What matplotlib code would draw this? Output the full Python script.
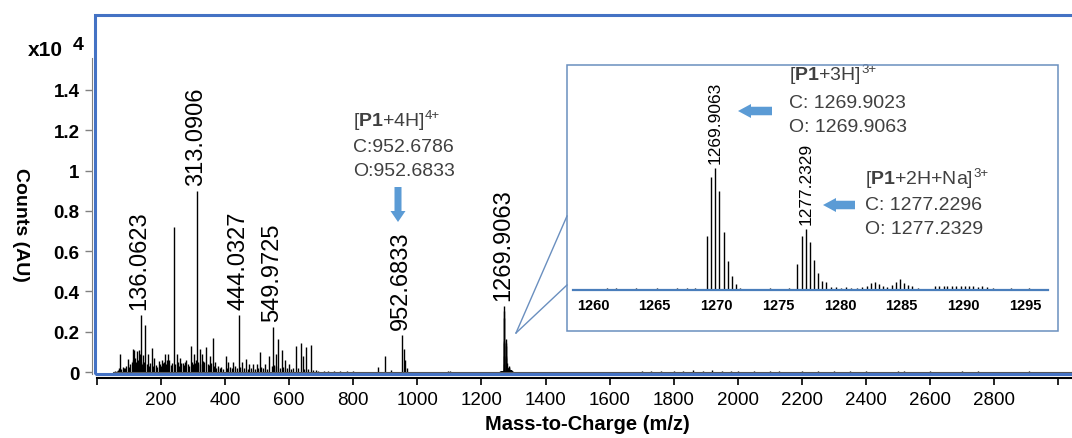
import matplotlib
matplotlib.use('Agg')
import matplotlib.pyplot as plt
from matplotlib import transforms
from matplotlib.patches import Rectangle, FancyArrow
from matplotlib.lines import Line2D

plt.rcParams['font.family'] = ['Liberation Sans', 'DejaVu Sans']
plt.rcParams['mathtext.fontset'] = 'custom'
plt.rcParams['mathtext.rm'] = 'Liberation Sans'
plt.rcParams['mathtext.bf'] = 'Liberation Sans:bold'

# ---------------- data (counts in units of 1e4) ----------------
labeled_mz = [136.0623, 313.0906, 444.0327, 549.9725, 952.6833]
labeled_h = [0.283, 0.897, 0.284, 0.222, 0.184]

minor_mz = [72, 84, 95.6, 111, 117, 124, 130, 143, 151, 158.5, 171, 179, 192, 202, 213, 221,
            226, 240, 249, 259, 268, 278, 292.5, 303, 320, 327, 341, 353, 362, 369, 378, 402,
            410, 425.5, 453, 464, 475, 488, 498, 507.6, 524, 537, 557.6, 566, 576, 587, 599,
            621, 636, 642, 652, 668, 691, 707, 722, 740, 760, 780, 800, 876, 900, 917, 958,
            962, 967, 1096, 1101]
minor_h = [0.091, 0.02, 0.063, 0.116, 0.11, 0.105, 0.11, 0.085, 0.232, 0.09, 0.121, 0.07,
           0.055, 0.06, 0.091, 0.091, 0.06, 0.718, 0.087, 0.07, 0.046, 0.06, 0.13, 0.09, 0.116,
           0.09, 0.125, 0.078, 0.169, 0.05, 0.03, 0.08, 0.05, 0.05, 0.05, 0.066, 0.04, 0.04,
           0.04, 0.1, 0.04, 0.08, 0.09, 0.165, 0.11, 0.06, 0.04, 0.127, 0.146, 0.08, 0.124,
           0.135, 0.005, 0.006, 0.006, 0.005, 0.006, 0.005, 0.006, 0.023, 0.08, 0.01, 0.114,
           0.06, 0.02, 0.006, 0.006]

noise_mz = [55, 62, 66, 70, 76, 80, 88, 92, 99, 104, 108, 113, 115, 120, 122, 127, 133, 137,
            140, 146, 148, 155, 162, 166, 175, 183, 187, 196, 199, 205, 209, 216, 218, 230,
            235, 245, 252, 255, 263, 272, 275, 283, 287, 296, 299, 307, 310, 316, 323, 331,
            335, 345, 349, 357, 365, 372, 383, 388, 394, 406, 416, 420, 431, 436, 447, 458,
            470, 480, 493, 503, 512, 518, 530, 545, 553, 560, 571, 580, 593, 605, 612, 628,
            646, 660, 675, 685]
noise_h = [0.003, 0.006, 0.01, 0.02, 0.015, 0.025, 0.02, 0.03, 0.025, 0.04, 0.05, 0.06, 0.045,
           0.07, 0.05, 0.06, 0.09, 0.05, 0.04, 0.035, 0.05, 0.04, 0.03, 0.045, 0.03, 0.035,
           0.025, 0.04, 0.03, 0.045, 0.05, 0.04, 0.06, 0.035, 0.045, 0.04, 0.05, 0.03, 0.045,
           0.035, 0.05, 0.04, 0.03, 0.05, 0.04, 0.045, 0.06, 0.05, 0.04, 0.055, 0.05, 0.04,
           0.035, 0.045, 0.03, 0.02, 0.02, 0.025, 0.015, 0.02, 0.025, 0.02, 0.03, 0.02, 0.025,
           0.02, 0.015, 0.02, 0.015, 0.02, 0.025, 0.02, 0.015, 0.03, 0.035, 0.03, 0.02, 0.025,
           0.02, 0.015, 0.02, 0.02, 0.015, 0.015, 0.01, 0.008]

high_mz = [1700, 1730, 1760, 1800, 1830, 1860, 1890, 1920, 1950, 1980, 2000, 2050, 2100, 2130,
           2200, 2250, 2300, 2350, 2400, 2500, 2520, 2600, 2700, 2750, 2910]
high_h = [0.006, 0.005, 0.006, 0.007, 0.006, 0.008, 0.007, 0.008, 0.006, 0.007, 0.006, 0.006,
          0.005, 0.006, 0.007, 0.006, 0.006, 0.005, 0.006, 0.006, 0.005, 0.006, 0.006, 0.005,
          0.006]

# isotope clusters (shown in both main spectrum and inset)
h3_mz = [1269.240, 1269.573, 1269.9063, 1270.240, 1270.573, 1270.906, 1271.240, 1271.573]
h3_h = [0.145, 0.305, 0.330, 0.267, 0.156, 0.079, 0.038, 0.016]
na_mz = [1276.566, 1276.899, 1277.2329, 1277.566, 1277.899, 1278.232, 1278.566]
na_h = [0.071, 0.146, 0.164, 0.130, 0.081, 0.045, 0.023]
cl_noise_mz = [1258.8, 1259.5, 1260.3, 1261.1, 1261.9, 1262.6, 1263.5, 1264.4, 1265.2, 1266.0,
               1266.8, 1267.6, 1268.3, 1268.8, 1271.9, 1272.4, 1273.6, 1274.3, 1275.1, 1275.9,
               1278.86, 1279.3, 1279.7, 1280.1, 1280.5, 1280.9, 1281.4, 1281.8, 1282.18, 1282.5,
               1282.83, 1283.15, 1283.48, 1283.8, 1284.2, 1284.55, 1284.88, 1285.2, 1285.55,
               1285.88, 1286.3, 1286.9, 1287.7, 1288.0, 1288.4, 1288.7, 1289.1, 1289.4, 1289.8,
               1290.1, 1290.5, 1290.8, 1291.2, 1291.5, 1291.9, 1292.4, 1293.2, 1293.9, 1294.6,
               1295.3, 1296.0]
cl_noise_h = [0.003, 0.004, 0.004, 0.005, 0.005, 0.004, 0.005, 0.004, 0.005, 0.004, 0.006,
              0.005, 0.006, 0.004, 0.006, 0.004, 0.004, 0.005, 0.004, 0.005, 0.021, 0.007,
              0.007, 0.006, 0.007, 0.006, 0.005, 0.007, 0.011, 0.020, 0.021, 0.015, 0.011,
              0.008, 0.0135, 0.0225, 0.029, 0.018, 0.0135, 0.011, 0.005, 0.004, 0.012, 0.010,
              0.012, 0.011, 0.012, 0.010, 0.012, 0.011, 0.010, 0.012, 0.009, 0.010, 0.008,
              0.006, 0.004, 0.005, 0.004, 0.005, 0.004]

y_ticks = [0, 0.2, 0.4, 0.6, 0.8, 1.0, 1.2, 1.4]
y_ticklabels = ['0', '0.2', '0.4', '0.6', '0.8', '1', '1.2', '1.4']
x_ticks = [0, 200, 400, 600, 800, 1000, 1200, 1400, 1600, 1800, 2000, 2200, 2400, 2600,
           2800, 3000]
x_ticklabels = ['', '200', '400', '600', '800', '1000', '1200', '1400', '1600', '1800',
                '2000', '2200', '2400', '2600', '2800', '']
inset_ticks = [1260, 1265, 1270, 1275, 1280, 1285, 1290, 1295]
inset_labeled_mz = [1269.9063, 1277.2329]
inset_labeled_h = [0.330, 0.164]

# ---------------- figure ----------------
W, H = 1072, 439
fig = plt.figure(figsize=(W / 100, H / 100), dpi=100)
px = transforms.Affine2D().scale(1 / 100, -1 / 100).translate(0, H / 100) + fig.dpi_scale_trans


def rect(l, t, r, b):
    return [l / W, 1 - b / H, (r - l) / W, (b - t) / H]


BLUE = '#4472C4'
ARROW = '#5B9BD5'
FRAME = '#6A8FBF'
TXT = '#404040'

ax = fig.add_axes(rect(95, 16, 1072, 375))
ax.set_facecolor('none')
ax.set_xlim(-6.2, 3043)
ax.set_ylim(-0.0099, 1.772)

all_mz = noise_mz + minor_mz + labeled_mz + high_mz + h3_mz + na_mz + cl_noise_mz
all_h = noise_h + minor_h + labeled_h + high_h + h3_h + na_h + cl_noise_h
ax.vlines(all_mz, 0, all_h, color='black', lw=1.0)
ax.plot([50, 3043], [0, 0], color='#555555', lw=0.8)

for mz, h in zip(labeled_mz + [1269.9063], labeled_h + [0.330]):
    ax.annotate(f"{mz:.4f}", xy=(mz, h), xytext=(-1, 6), textcoords='offset pixels',
                rotation=90, ha='center', va='bottom', fontsize=17, color='black')

for s in ['top', 'right']:
    ax.spines[s].set_visible(False)
ax.spines['left'].set_position(('outward', 2))
ax.spines['left'].set_color('#808080')
ax.spines['left'].set_bounds(-0.0099, 1.56)
ax.spines['bottom'].set_position(('outward', 3))
ax.spines['bottom'].set_color('black')
ax.spines['bottom'].set_linewidth(1.5)
ax.spines['bottom'].set_bounds(0, 3043)

ax.set_yticks(y_ticks)
ax.set_yticklabels(y_ticklabels, fontweight='bold', fontsize=13.5)
ax.tick_params(axis='y', direction='out', length=5, width=1, color='#808080', pad=4)
ax.set_xticks(x_ticks)
ax.set_xticklabels(x_ticklabels, fontsize=13.5)
ax.tick_params(axis='x', direction='out', length=5, width=1.2, color='black', pad=4)

ax.add_patch(Rectangle((0, 0), 1.05, 1, transform=ax.transAxes, fill=False, ec=BLUE, lw=2.2,
                       clip_on=False, zorder=5))

fig.text(587 / W, 1 - 425 / H, 'Mass-to-Charge (m/z)', ha='center', va='center',
         fontsize=14.5, fontweight='bold')
fig.text(20 / W, 1 - 225 / H, 'Counts (AU)', ha='center', va='center', rotation=270,
         fontsize=14, fontweight='bold')
fig.text(28, 50, 'x10', transform=px, ha='left', va='center', fontsize=15, fontweight='bold')
fig.text(73, 45, '4', transform=px, ha='left', va='center', fontsize=14, fontweight='bold')


def ion_label(x, y, base, sup):
    t = fig.text(x, y, base, transform=px, ha='left', va='center', fontsize=14, color=TXT)
    a = plt.annotate(sup, xy=(1, 1), xycoords=t, xytext=(0.3, 1), textcoords='offset points',
                     ha='left', va='top', fontsize=9.5, color=TXT, annotation_clip=False)
    return t, a


# annotation for [P1+4H]4+
ion_label(353, 122, r"[$\mathbf{P1}$+4H]", '4+')
fig.text(353, 147, 'C:952.6786', transform=px, ha='left', va='center', fontsize=14, color=TXT)
fig.text(353, 171, 'O:952.6833', transform=px, ha='left', va='center', fontsize=14, color=TXT)
fig.add_artist(FancyArrow(398, 188, 0, 35, width=7, head_width=15, head_length=11,
                          length_includes_head=True, transform=px, color=ARROW, ec='none'))

# inset frame and callout lines
fig.add_artist(Rectangle((567, 66), 491, 266, transform=px, fill=False, ec=FRAME, lw=1.1))
fig.add_artist(Line2D([516, 567], [334, 217], transform=px, color=FRAME, lw=1))
fig.add_artist(Line2D([516, 567], [334, 286], transform=px, color=FRAME, lw=1))

axi = fig.add_axes(rect(573, 150, 1048, 291))
axi.set_facecolor('none')
axi.set_xlim(1258.38, 1296.86)
axi.set_ylim(0, 0.381)
axi.vlines(h3_mz + na_mz + cl_noise_mz, 0, h3_h + na_h + cl_noise_h, color='black', lw=1.0)
for s in ['top', 'right', 'left']:
    axi.spines[s].set_visible(False)
axi.spines['bottom'].set_color('#4A7EBB')
axi.spines['bottom'].set_linewidth(1.6)
axi.set_yticks([])
axi.set_xticks(inset_ticks)
axi.set_xticklabels([str(t) for t in inset_ticks], fontsize=10.5, fontweight='bold')
axi.tick_params(axis='x', length=0, pad=6)
for mz, h in zip(inset_labeled_mz, inset_labeled_h):
    axi.annotate(f"{mz:.4f}", xy=(mz, h), xytext=(0, 5), textcoords='offset pixels',
                 rotation=90, ha='center', va='bottom', fontsize=12.5, color='black')

ion_label(789, 76, r"[$\mathbf{P1}$+3H]", '3+')
fig.text(789, 103, 'C: 1269.9023', transform=px, ha='left', va='center', fontsize=14, color=TXT)
fig.text(789, 127, 'O: 1269.9063', transform=px, ha='left', va='center', fontsize=14, color=TXT)
ion_label(865, 180, r"[$\mathbf{P1}$+2H+Na]", '3+')
fig.text(865, 206, 'C: 1277.2296', transform=px, ha='left', va='center', fontsize=14, color=TXT)
fig.text(865, 230, 'O: 1277.2329', transform=px, ha='left', va='center', fontsize=14, color=TXT)
fig.add_artist(FancyArrow(772, 112, -34, 0, width=8.5, head_width=14, head_length=13,
                          length_includes_head=True, transform=px, color=ARROW, ec='none'))
fig.add_artist(FancyArrow(855, 206, -32, 0, width=8.5, head_width=14, head_length=13,
                          length_includes_head=True, transform=px, color=ARROW, ec='none'))

fig.savefig('out.png', dpi=100)
